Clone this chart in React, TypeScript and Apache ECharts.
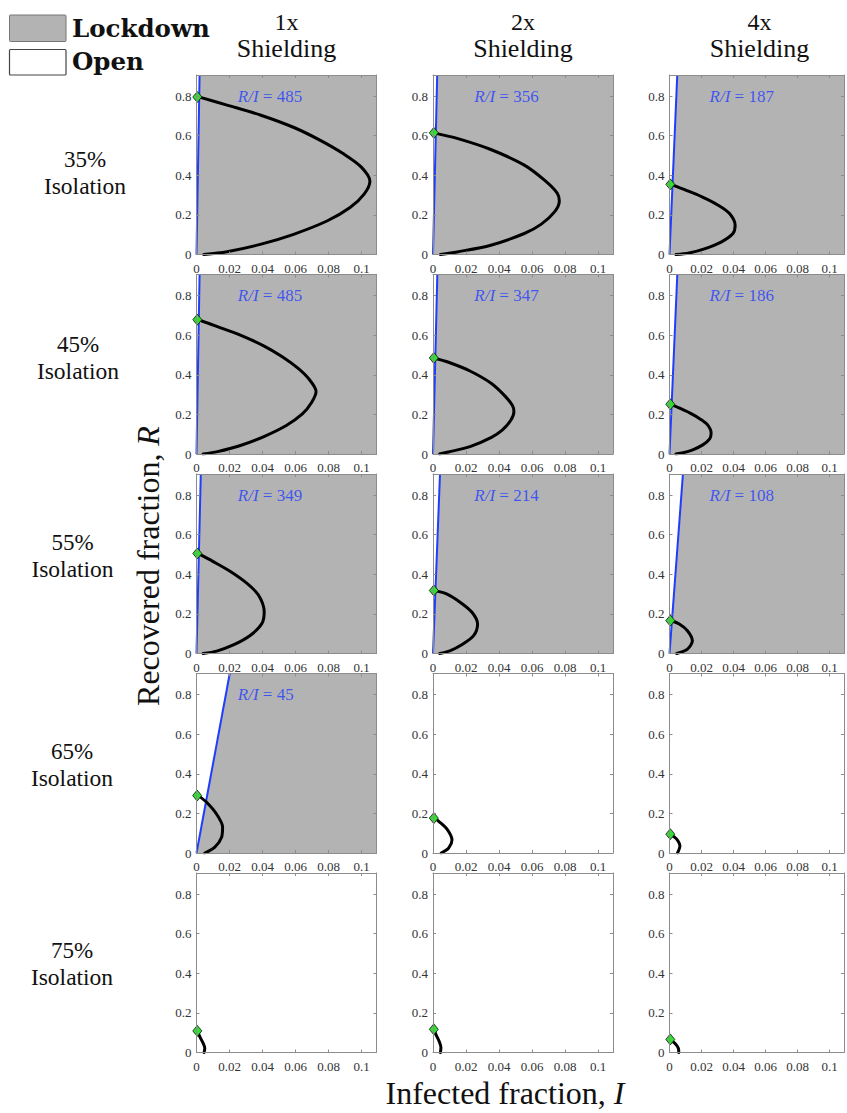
import React, { useEffect, useRef } from "react";
import * as echarts from "echarts";

// ---------- data ----------
const shielding = ["1x", "2x", "4x"];
const isolation = ["35%", "45%", "55%", "65%", "75%"];

// R/I threshold of the lockdown region (null = no lockdown region)
const ratio35 = [485, 356, 187];
const ratio45 = [485, 347, 186];
const ratio55 = [349, 214, 108];
const ratio65 = [45, null, null];
const ratio75 = [null, null, null];

// trajectories [I, R]
const c35_1x = [[0.0044, 0], [0.0185, 0.014], [0.0386, 0.051], [0.0588, 0.102], [0.079, 0.169], [0.093, 0.237], [0.1015, 0.305], [0.105, 0.37], [0.0998, 0.441], [0.089, 0.508], [0.075, 0.576], [0.059, 0.641], [0.039, 0.703], [0.0185, 0.754], [0.0024, 0.793]];
const c35_2x = [[0.0045, 0], [0.0146, 0.013], [0.035, 0.047], [0.0553, 0.106], [0.0654, 0.152], [0.0736, 0.215], [0.0765, 0.27], [0.0752, 0.31], [0.0675, 0.375], [0.0553, 0.451], [0.035, 0.53], [0.0146, 0.586], [0.0024, 0.61]];
const c35_4x = [[0.004, 0], [0.0122, 0.008], [0.0223, 0.03], [0.0325, 0.064], [0.0396, 0.106], [0.041, 0.148], [0.0375, 0.207], [0.0304, 0.249], [0.0203, 0.291], [0.0101, 0.325], [0.002, 0.35]];
const c45_1x = [[0.004, 0], [0.0127, 0.012], [0.0266, 0.043], [0.0405, 0.087], [0.0544, 0.144], [0.0641, 0.202], [0.0697, 0.26], [0.0724, 0.315], [0.0683, 0.376], [0.0614, 0.433], [0.0517, 0.492], [0.0407, 0.546], [0.0269, 0.599], [0.0127, 0.643], [0.0017, 0.676]];
const c45_2x = [[0.004, 0], [0.0094, 0.01], [0.0224, 0.037], [0.0354, 0.084], [0.0419, 0.12], [0.0471, 0.17], [0.049, 0.213], [0.0481, 0.245], [0.0432, 0.296], [0.0354, 0.356], [0.0224, 0.419], [0.0094, 0.463], [0.0015, 0.482]];
const c45_4x = [[0.004, 0], [0.0085, 0.006], [0.0145, 0.021], [0.0208, 0.046], [0.0251, 0.076], [0.026, 0.106], [0.0238, 0.147], [0.0193, 0.176], [0.0129, 0.206], [0.0064, 0.231], [0.0013, 0.249]];
const c55_1x = [[0.004, 0], [0.0122, 0.012], [0.0223, 0.043], [0.0325, 0.091], [0.0396, 0.151], [0.041, 0.211], [0.0375, 0.295], [0.0304, 0.355], [0.0203, 0.415], [0.0101, 0.464], [0.002, 0.5]];
const c55_2x = [[0.004, 0], [0.0102, 0.0135], [0.0174, 0.044], [0.0246, 0.09], [0.027, 0.149], [0.0236, 0.208], [0.0164, 0.259], [0.0082, 0.301], [0.0015, 0.316]];
const c55_4x = [[0.0045, 0], [0.0112, 0.022], [0.0143, 0.064], [0.0112, 0.115], [0.0061, 0.149], [0.0015, 0.164]];
const c65_1x = [[0.005, 0], [0.0111, 0.03], [0.0152, 0.08], [0.0158, 0.131], [0.0121, 0.197], [0.0061, 0.256], [0.0015, 0.287]];
const c65_2x = [[0.005, 0], [0.0095, 0.025], [0.0115, 0.065], [0.0085, 0.12], [0.0035, 0.16], [0.0012, 0.174]];
const c65_4x = [[0.005, 0], [0.0065, 0.035], [0.0045, 0.07], [0.0015, 0.09]];
const c75_1x = [[0.0046, 0], [0.005, 0.022], [0.004, 0.047], [0.002, 0.08], [0.0008, 0.105]];
const c75_2x = [[0.0045, 0], [0.0048, 0.025], [0.0038, 0.055], [0.0018, 0.09], [0.0008, 0.113]];
const c75_4x = [[0.0058, 0], [0.0055, 0.022], [0.0035, 0.045], [0.001, 0.062]];

// final states (green diamonds) [I, R]
const end35 = [[0.0005, 0.795], [0.0005, 0.614], [0.0005, 0.354]];
const end45 = [[0.0005, 0.678], [0.0005, 0.485], [0.0005, 0.251]];
const end55 = [[0.0005, 0.505], [0.0005, 0.318], [0.0005, 0.166]];
const end65 = [[0.0004, 0.29], [0.0005, 0.176], [0.0005, 0.095]];
const end75 = [[0.0005, 0.109], [0.0005, 0.117], [0.0005, 0.066]];

const xTicks = [0, 0.02, 0.04, 0.06, 0.08, 0.1];
const yTicks = [0, 0.2, 0.4, 0.6, 0.8];

const ratios = [ratio35, ratio45, ratio55, ratio65, ratio75];
const curves = [
  [c35_1x, c35_2x, c35_4x],
  [c45_1x, c45_2x, c45_4x],
  [c55_1x, c55_2x, c55_4x],
  [c65_1x, c65_2x, c65_4x],
  [c75_1x, c75_2x, c75_4x],
];
const ends = [end35, end45, end55, end65, end75];

// ---------- styling / layout ----------
const XMAX = 0.109;
const YMAX = 0.906;
const LABEL_POS = [0.025, 0.8];
const FONT = "'Liberation Serif', 'Times New Roman', serif";
const LEG_FONT = "'DejaVu Serif', serif";
const GRAY = "#b3b3b3";
const BLUE = "#1f3dff";
const AXIS = "#8c8c8c";
const GRID_LEFT = [196.5, 433, 669.5];
const GRID_TOP = [75, 274.5, 474, 673.5, 873];
const ROW_LABEL_Y = [159, 344, 542, 751, 950];
const ROW_LABEL_X = [85, 78, 72.5, 72, 72];
const GW = 180;
const GH = 179.5;

function fmt(v: number, ticks: number[]) {
  const hit = ticks.find((t) => Math.abs(t - v) < 1e-9);
  if (hit === undefined) return "";
  return String(hit);
}

function buildOption() {
  const grid: any[] = [];
  const xAxis: any[] = [];
  const yAxis: any[] = [];
  const series: any[] = [];
  const graphic: any[] = [];

  let idx = 0;
  for (let r = 0; r < isolation.length; r++) {
    for (let c = 0; c < shielding.length; c++) {
      grid.push({ left: GRID_LEFT[c], top: GRID_TOP[r], width: GW, height: GH, show: false });
      const common = {
        type: "value",
        gridIndex: idx,
        min: 0,
        splitLine: { show: false },
        axisLine: { show: true, onZero: false, lineStyle: { color: AXIS, width: 1 } },
        axisTick: { show: true, inside: true, length: 3, lineStyle: { color: AXIS, width: 1 } },
        z: 10,
      };
      xAxis.push({
        ...common,
        max: XMAX,
        interval: 0.02,
        position: "bottom",
        axisLabel: { show: true, margin: 7, fontFamily: FONT, fontSize: 13, color: "#333", formatter: (v: number) => fmt(v, xTicks) },
      });
      xAxis.push({ ...common, max: XMAX, interval: 0.02, position: "top", axisLabel: { show: false } });
      yAxis.push({
        ...common,
        max: YMAX,
        interval: 0.2,
        position: "left",
        axisLabel: { show: true, margin: 5, fontFamily: FONT, fontSize: 13, color: "#333", formatter: (v: number) => fmt(v, yTicks) },
      });
      yAxis.push({ ...common, max: YMAX, interval: 0.2, position: "right", axisLabel: { show: false } });

      const xi = idx * 2;
      const yi = idx * 2;
      const k = ratios[r][c];
      if (k) {
        series.push({
          type: "line",
          xAxisIndex: xi,
          yAxisIndex: yi,
          data: [[0, 0], [YMAX / k, YMAX], [XMAX, YMAX]],
          symbol: "none",
          lineStyle: { width: 0, opacity: 0 },
          areaStyle: { color: GRAY, opacity: 1, origin: "start" },
          silent: true,
          z: 1,
        });
        series.push({
          type: "line",
          xAxisIndex: xi,
          yAxisIndex: yi,
          data: [[0, 0], [YMAX / k, YMAX]],
          symbol: "none",
          lineStyle: { width: 2, color: BLUE },
          z: 3,
        });
        series.push({
          type: "scatter",
          xAxisIndex: xi,
          yAxisIndex: yi,
          data: [LABEL_POS],
          symbolSize: 0,
          label: {
            show: true,
            position: "right",
            distance: 0,
            formatter: `{a|R/I}{b| = ${k}}`,
            rich: {
              a: { fontFamily: FONT, fontStyle: "italic", fontSize: 17, color: BLUE },
              b: { fontFamily: FONT, fontSize: 17, color: BLUE },
            },
          },
          z: 6,
        });
      }
      series.push({
        type: "line",
        xAxisIndex: xi,
        yAxisIndex: yi,
        data: curves[r][c],
        symbol: "none",
        smooth: 0.3,
        lineStyle: { width: 3, color: "#000", cap: "round", join: "round" },
        z: 4,
      });
      series.push({
        type: "scatter",
        xAxisIndex: xi,
        yAxisIndex: yi,
        data: [ends[r][c]],
        symbol: "diamond",
        symbolSize: [9, 11],
        itemStyle: { color: "#2fe02f", borderColor: "#111", borderWidth: 0.8, opacity: 1 },
        z: 7,
      });
      idx++;
    }
  }

  // column titles
  shielding.forEach((s, c) => {
    const cx = GRID_LEFT[c] + GW / 2;
    graphic.push({ type: "text", x: cx, y: 22, style: { text: s, font: `24px ${FONT}`, fill: "#111", align: "center", verticalAlign: "middle" } });
    graphic.push({ type: "text", x: cx, y: 48, style: { text: "Shielding", font: `26px ${FONT}`, fill: "#111", align: "center", verticalAlign: "middle" } });
  });
  // row titles
  isolation.forEach((s, r) => {
    const cy = ROW_LABEL_Y[r];
    const cx = ROW_LABEL_X[r];
    graphic.push({ type: "text", x: cx, y: cy, style: { text: s, font: `23px ${FONT}`, fill: "#111", align: "center", verticalAlign: "middle" } });
    graphic.push({ type: "text", x: cx, y: cy + 27, style: { text: "Isolation", font: `23.5px ${FONT}`, fill: "#111", align: "center", verticalAlign: "middle" } });
  });
  // axis titles
  graphic.push({
    type: "text",
    x: 148,
    y: 566,
    rotation: Math.PI / 2,
    style: {
      text: "{a|Recovered fraction, }{b|R}",
      align: "center",
      verticalAlign: "middle",
      rich: {
        a: { fontFamily: FONT, fontSize: 32, fill: "#111" },
        b: { fontFamily: FONT, fontSize: 32, fontStyle: "italic", fill: "#111" },
      },
    },
  });
  graphic.push({
    type: "text",
    x: 505,
    y: 1093,
    style: {
      text: "{a|Infected fraction, }{b|I}",
      align: "center",
      verticalAlign: "middle",
      rich: {
        a: { fontFamily: FONT, fontSize: 32, fill: "#111" },
        b: { fontFamily: FONT, fontSize: 32, fontStyle: "italic", fill: "#111" },
      },
    },
  });
  // legend
  graphic.push({ type: "rect", shape: { x: 9.5, y: 15, width: 56.5, height: 26.5, r: 1 }, style: { fill: GRAY, stroke: "#777", lineWidth: 1 } });
  graphic.push({ type: "rect", shape: { x: 9.5, y: 49.5, width: 56.5, height: 25.5, r: 1 }, style: { fill: "#fff", stroke: "#444", lineWidth: 1.2 } });
  graphic.push({ type: "text", x: 72, y: 28.5, style: { text: "Lockdown", font: `bold 24.5px ${LEG_FONT}`, fill: "#111", align: "left", verticalAlign: "middle" } });
  graphic.push({ type: "text", x: 72, y: 61.5, style: { text: "Open", font: `bold 24.5px ${LEG_FONT}`, fill: "#111", align: "left", verticalAlign: "middle" } });

  return { animation: false, backgroundColor: "#fff", grid, xAxis, yAxis, series, graphic };
}

export default function App() {
  const ref = useRef<HTMLDivElement>(null);
  useEffect(() => {
    if (!ref.current) return;
    const chart = echarts.init(ref.current, undefined, { renderer: "svg" });
    chart.setOption(buildOption() as any);
    return () => chart.dispose();
  }, []);
  return <div ref={ref} style={{ position: "absolute", left: 0, top: 0, width: 847, height: 1113 }} />;
}
